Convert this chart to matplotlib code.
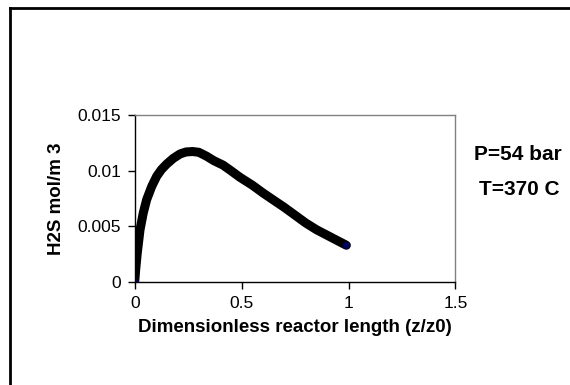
import numpy as np
import matplotlib
matplotlib.use("Agg")
import matplotlib.pyplot as plt
from matplotlib.lines import Line2D

plt.rcParams['font.family'] = ['Liberation Sans', 'DejaVu Sans']

# DATA
z = [0.0, 0.005, 0.012, 0.025, 0.04, 0.056, 0.08, 0.103, 0.125, 0.15, 0.18,
     0.212, 0.24, 0.27, 0.30, 0.336, 0.37, 0.413, 0.45, 0.4925, 0.55, 0.60,
     0.646, 0.70, 0.75, 0.80, 0.85, 0.90, 0.95, 0.99]
h2s = [0.0, 0.0012, 0.0026, 0.0047, 0.0062, 0.0074, 0.0086, 0.0095, 0.0101,
       0.0106, 0.0111, 0.0115, 0.01168, 0.01172, 0.01165, 0.0113, 0.0109,
       0.0105, 0.0100, 0.0094, 0.0087, 0.0080, 0.0074, 0.0067, 0.0060,
       0.0053, 0.0047, 0.0042, 0.0037, 0.0033]

xticks = [0, 0.5, 1, 1.5]
xtick_labels = ["0", "0.5", "1", "1.5"]
yticks = [0, 0.005, 0.01, 0.015]
ytick_labels = ["0", "0.005", "0.01", "0.015"]

fig = plt.figure(figsize=(5.7, 3.85), dpi=100)
ax = fig.add_axes([0.2363, 0.2675, 0.5627, 0.4338])

ax.plot(z, h2s, color='black', lw=6.5, solid_capstyle='round',
        solid_joinstyle='round')
ax.plot([z[0], z[-1]], [h2s[0], h2s[-1]], 'o', ms=4, color='#000060')

ax.set_xlim(0, 1.5)
ax.set_ylim(0, 0.015)
ax.set_xticks(xticks)
ax.set_xticklabels(xtick_labels)
ax.set_yticks(yticks)
ax.set_yticklabels(ytick_labels)
ax.tick_params(direction='out', length=5, width=1, labelsize=12.5, pad=5)

ax.spines['left'].set_color('black')
ax.spines['bottom'].set_color('black')
ax.spines['top'].set_color('#808080')
ax.spines['right'].set_color('#808080')
for s in ax.spines.values():
    s.set_linewidth(1)

ax.set_xlabel("Dimensionless reactor length (z/z0)", fontsize=13.5,
              fontweight='bold', labelpad=6)
ax.set_ylabel("H2S mol/m 3", fontsize=13.5, fontweight='bold', labelpad=9)

fig.text(518 / 570, 1 - 154 / 385, "P=54 bar", fontsize=15,
         fontweight='bold', ha='center', va='center')
fig.text(519 / 570, 1 - 189 / 385, "T=370 C", fontsize=15,
         fontweight='bold', ha='center', va='center')

# outer chart frame (only top and left edges are inside the picture)
fx, fy = 9.5 / 570, 1 - 7.5 / 385
fig.add_artist(Line2D([fx, fx], [-0.05, fy], transform=fig.transFigure,
                      color='black', lw=2, solid_capstyle='projecting'))
fig.add_artist(Line2D([fx, 1.05], [fy, fy], transform=fig.transFigure,
                      color='black', lw=2, solid_capstyle='projecting'))

fig.savefig("out.png", dpi=100)
